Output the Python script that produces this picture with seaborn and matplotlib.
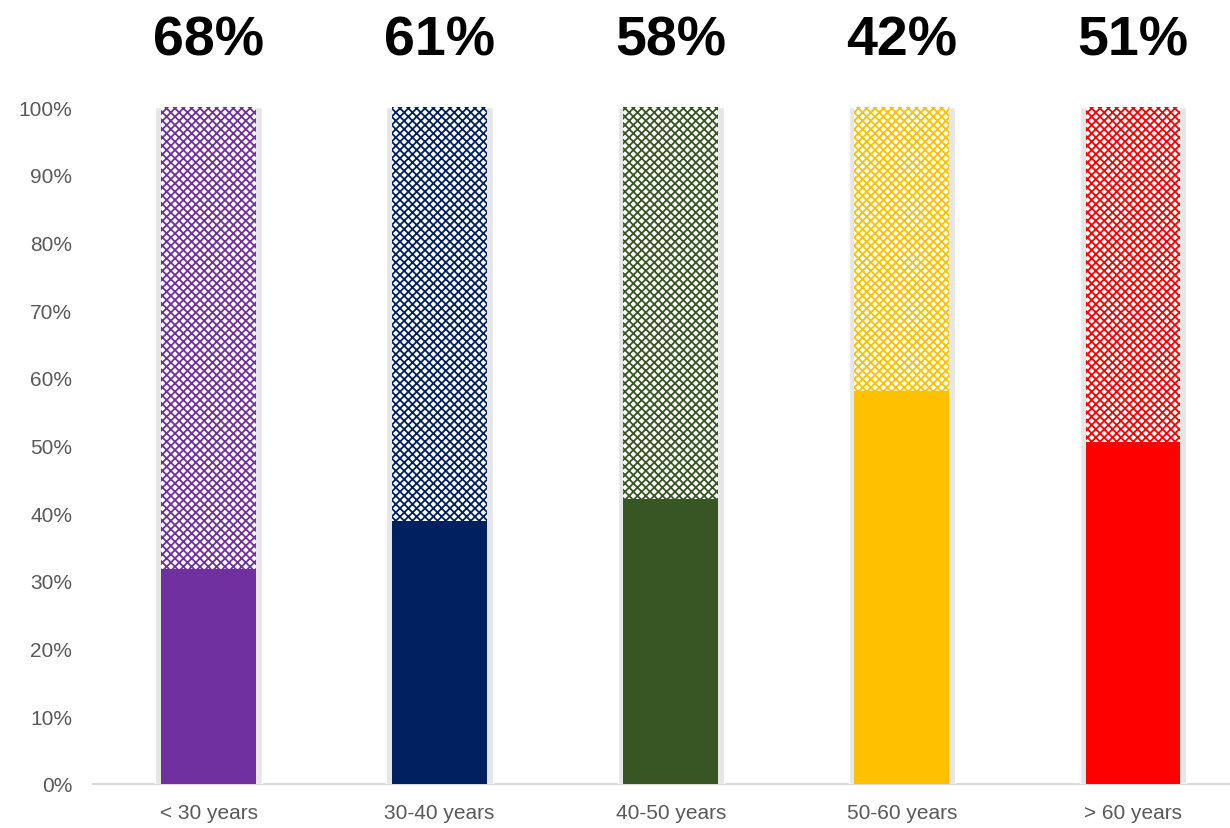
import matplotlib
matplotlib.use("Agg")
import matplotlib.pyplot as plt
import matplotlib.transforms as mtransforms
import seaborn as sns
import pandas as pd

# Values
groups = ["< 30 years", "30-40 years", "40-50 years", "50-60 years", "> 60 years"]
solid_share = [31.8, 38.8, 42.1, 58.0, 50.5]
full_share = [100, 100, 100, 100, 100]
top_labels = ["68%", "61%", "58%", "42%", "51%"]
colors = ["#7030A0", "#002060", "#375623", "#FFC000", "#FF0000"]

sns.set_style("white")
plt.rcParams["font.family"] = ["Liberation Sans", "DejaVu Sans"]
plt.rcParams["hatch.linewidth"] = 1.3

df = pd.DataFrame({"group": groups, "solid": solid_share, "full": full_share})

fig = plt.figure(figsize=(12.3, 8.29), dpi=100)
ax = fig.add_axes([93 / 1230, 44 / 829, 1 - 93 / 1230, (785 - 108) / 829])

# soft shadow behind each bar
sns.barplot(data=df, x="group", y="full", color="#e6e6e6", width=0.46,
            saturation=1, ax=ax, zorder=1)
n_shadow = len(ax.patches)
# patterned full-height bar
sns.barplot(data=df, x="group", y="full", color="white", width=0.41,
            saturation=1, ax=ax, zorder=2)
for p, c in zip(ax.patches[n_shadow:], colors):
    p.set_facecolor("white")
    p.set_edgecolor(c)
    p.set_linewidth(0)
    p.set_hatch("xxxx")
n_full = len(ax.patches)
# solid bottom part
sns.barplot(data=df, x="group", y="solid", hue="group", palette=colors,
            width=0.41, saturation=1, legend=False, ax=ax, zorder=3)
for p in ax.patches[n_full:]:
    p.set_linewidth(0)

ax.set_ylim(0, 100)
ax.set_xlim(-0.5, 4.42)
ax.set_yticks(range(0, 101, 10))
ax.set_yticklabels([f"{v}%" for v in range(0, 101, 10)])
ax.set_xlabel("")
ax.set_ylabel("")
ax.tick_params(axis="both", length=0, labelsize=15, labelcolor="#595959")
ax.tick_params(axis="y", pad=15)
ax.tick_params(axis="x", pad=14)
for s in ["top", "right", "left"]:
    ax.spines[s].set_visible(False)
ax.spines["bottom"].set_color("#d9d9d9")
ax.spines["bottom"].set_linewidth(1.5)
ax.spines["bottom"].set_zorder(0)

trans = mtransforms.blended_transform_factory(ax.transData, fig.transFigure)
for i, lab in enumerate(top_labels):
    ax.text(i, 1 - 36 / 829, lab, transform=trans, ha="center", va="center_baseline",
            fontsize=40, fontweight="bold", color="black")

fig.savefig("out.png", dpi=100)
